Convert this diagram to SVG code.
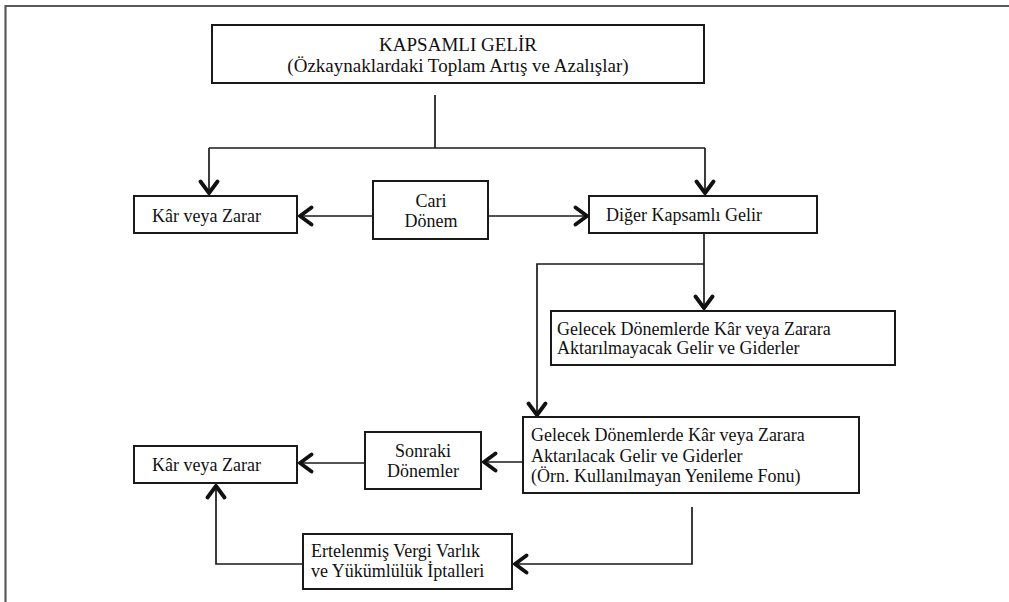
<svg xmlns="http://www.w3.org/2000/svg" width="1009" height="602" viewBox="0 0 1009 602">
<style>
.frame{stroke:#5a5a5a;stroke-width:2.2;fill:none}
.box{fill:#fff;stroke:#1a1a1a;stroke-width:2}
.ln{fill:none;stroke:#1a1a1a;stroke-width:1.7}
text{font-family:"Liberation Serif","Times New Roman",serif;font-size:18px;fill:#111}
.c{text-anchor:middle}
</style>
<defs>
<marker id="ah" viewBox="-17 -11 19 22" markerWidth="19" markerHeight="22" refX="0" refY="0" orient="auto" markerUnits="userSpaceOnUse">
<path d="M -13.5 -8.5 L -2 0 L -13.5 8.5" fill="none" stroke="#111" stroke-width="3.8" stroke-linejoin="round" stroke-linecap="round"/>
</marker>
</defs>
<rect width="1009" height="602" fill="#fff"/>
<path class="frame" d="M5.5 602 V6 H1009"/>
<g id="connectors">
<path class="ln" d="M435 95 V148"/>
<path class="ln" d="M209 148 H705"/>
<path class="ln" d="M209 148 V195" marker-end="url(#ah)"/>
<path class="ln" d="M705 148 V195" marker-end="url(#ah)"/>
<path class="ln" d="M373 216 H298" marker-end="url(#ah)"/>
<path class="ln" d="M488 216 H589" marker-end="url(#ah)"/>
<path class="ln" d="M704 233 V310" marker-end="url(#ah)"/>
<path class="ln" d="M704 264 H537 V417" marker-end="url(#ah)"/>
<path class="ln" d="M523 462 H482" marker-end="url(#ah)"/>
<path class="ln" d="M365 463 H298" marker-end="url(#ah)"/>
<path class="ln" d="M692 507 V564 H513" marker-end="url(#ah)"/>
<path class="ln" d="M303 564 H216 V484" marker-end="url(#ah)"/>
</g>
<g id="kapsamli">
<rect class="box" x="212" y="25" width="492" height="58"/>
<text class="c" x="458" y="51" style="font-size:19px">KAPSAMLI GELİR</text>
<text class="c" x="458" y="72" style="font-size:19px">(Özkaynaklardaki Toplam Artış ve Azalışlar)</text>
</g>
<g id="kar1">
<rect class="box" x="134" y="196" width="163" height="37"/>
<text x="152" y="222">Kâr veya Zarar</text>
</g>
<g id="cari">
<rect class="box" x="373" y="181" width="115" height="58"/>
<text class="c" x="431" y="207">Cari</text>
<text class="c" x="431" y="227">Dönem</text>
</g>
<g id="diger">
<rect class="box" x="589" y="196" width="228" height="37"/>
<text x="606" y="221">Diğer Kapsamlı Gelir</text>
</g>
<g id="aktarilmayacak">
<rect class="box" x="551" y="311" width="344" height="54"/>
<text x="557" y="335">Gelecek Dönemlerde Kâr veya Zarara</text>
<text x="557" y="354">Aktarılmayacak Gelir ve Giderler</text>
</g>
<g id="aktarilacak">
<rect class="box" x="523" y="417" width="336" height="76"/>
<text x="531" y="441">Gelecek Dönemlerde Kâr veya Zarara</text>
<text x="531" y="462">Aktarılacak Gelir ve Giderler</text>
<text x="531" y="482">(Örn. Kullanılmayan Yenileme Fonu)</text>
</g>
<g id="sonraki">
<rect class="box" x="365" y="432" width="116" height="57"/>
<text class="c" x="423" y="457">Sonraki</text>
<text class="c" x="423" y="477">Dönemler</text>
</g>
<g id="kar2">
<rect class="box" x="134" y="446" width="163" height="37"/>
<text x="152" y="471">Kâr veya Zarar</text>
</g>
<g id="ertelenmis">
<rect class="box" x="303" y="534" width="209" height="55"/>
<text x="311" y="557">Ertelenmiş Vergi Varlık</text>
<text x="311" y="577">ve Yükümlülük İptalleri</text>
</g>
</svg>
